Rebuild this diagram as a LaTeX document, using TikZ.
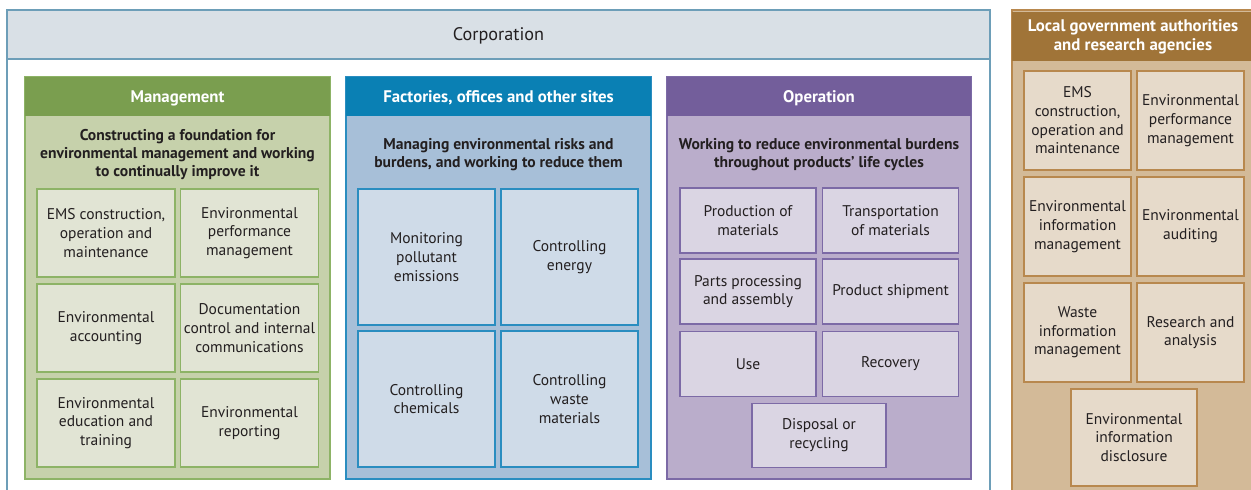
\documentclass[tikz,border=0pt]{standalone}
\usepackage{fontspec}
\setmainfont{PT Sans}
\definecolor{txt}{HTML}{231F20}
\definecolor{corpfill}{HTML}{D9E0E6}
\definecolor{corpline}{HTML}{6D9EB8}
\definecolor{mhead}{HTML}{7A9E4F}
\definecolor{mbody}{HTML}{C6D1AB}
\definecolor{mline}{HTML}{8DB366}
\definecolor{minner}{HTML}{E1E4D4}
\definecolor{fhead}{HTML}{0A80B4}
\definecolor{fbody}{HTML}{A7BFD8}
\definecolor{fline}{HTML}{2A8DC0}
\definecolor{finner}{HTML}{CFDBE8}
\definecolor{ohead}{HTML}{735E9B}
\definecolor{obody}{HTML}{BAADCB}
\definecolor{oline}{HTML}{7C6AA6}
\definecolor{oinner}{HTML}{DAD5E3}
\definecolor{lhead}{HTML}{A07438}
\definecolor{lbody}{HTML}{D3BA98}
\definecolor{lline}{HTML}{B8884E}
\definecolor{linner}{HTML}{E6DACA}
\tikzset{
  base/.style={rectangle, inner sep=0pt, align=center, text=txt,
    font=\fontsize{15.5}{18.7}\selectfont, line width=1.1pt},
  headtxt/.style={base, text=white, font=\fontsize{16.8}{19}\bfseries\selectfont,
    text height=1.3em, text depth=0.1em},
  subtxt/.style={base, font=\fontsize{15.6}{18}\bfseries\selectfont},
  mpanel/.style={base, draw=mline, fill=mbody},
  mheadbox/.style={headtxt, fill=mhead},
  mbox/.style={base, draw=mline, fill=minner, minimum width=138pt, minimum height=88pt},
  fpanel/.style={base, draw=fline, fill=fbody},
  fheadbox/.style={headtxt, fill=fhead},
  fbox/.style={base, draw=fline, fill=finner, minimum width=137pt, minimum height=136pt},
  opanel/.style={base, draw=oline, fill=obody},
  oheadbox/.style={headtxt, fill=ohead},
  obox/.style={base, draw=oline, fill=oinner, minimum width=136pt, minimum height=65pt},
  lpanel/.style={base, draw=lline, fill=lbody},
  lheadbox/.style={headtxt, fill=lhead, text height=, text depth=},
  lbox/.style={base, draw=lline, fill=linner, minimum width=107pt, minimum height=99pt},
}
\begin{document}
\begin{tikzpicture}[x=1pt,y=-1pt]
\useasboundingbox (0,0) rectangle (1251,490);
% Corporation
\node[base, draw=corpline, minimum width=983pt, minimum height=485pt] (corp) at (498.5,252.5) {};
\node[base, draw=corpline, fill=corpfill, minimum width=983pt, minimum height=49pt,
  font=\fontsize{18.2}{21}\selectfont, text height=1.3em, text depth=0.1em] (corphead) at (498.5,34.5) {Corporation};

% Management
\node[mpanel, minimum width=305pt, minimum height=402pt] (mpanel) at (177.5,278) {};
\node[mheadbox, minimum width=305pt, minimum height=39pt] (mhead) at (177.5,96.5) {Management};
\node[subtxt] (msub) at (177.5,154.5) {Constructing a foundation for\\environmental management and working\\to continually improve it};
\node[mbox] (m1) at (106,233) {EMS construction,\\operation and\\maintenance};
\node[mbox] (m2) at (249.5,233) {Environmental\\performance\\management};
\node[mbox] (m3) at (106,328) {Environmental\\accounting};
\node[mbox] (m4) at (249.5,328) {Documentation\\control and internal\\communications};
\node[mbox] (m5) at (106,423) {Environmental\\education and\\training};
\node[mbox] (m6) at (249.5,423) {Environmental\\reporting};

% Factories
\node[fpanel, minimum width=305pt, minimum height=402pt] (fpanel) at (498.5,278) {};
\node[fheadbox, minimum width=305pt, minimum height=39pt] (fhead) at (498.5,96.5) {Factories, offices and other sites};
\node[subtxt] (fsub) at (498.5,154.5) {Managing environmental risks and\\burdens, and working to reduce them};
\node[fbox] (f1) at (426.5,257) {Monitoring\\pollutant\\emissions};
\node[fbox] (f2) at (569.5,257) {Controlling\\energy};
\node[fbox] (f3) at (426.5,399) {Controlling\\chemicals};
\node[fbox] (f4) at (569.5,399) {Controlling\\waste\\materials};

% Operation
\node[opanel, minimum width=304pt, minimum height=402pt] (opanel) at (819,278) {};
\node[oheadbox, minimum width=304pt, minimum height=39pt] (ohead) at (819,96.5) {Operation};
\node[subtxt] (osub) at (819,154.5) {Working to reduce environmental burdens\\throughout products’ life cycles};
\node[obox] (o1) at (748,220.5) {Production of\\materials};
\node[obox] (o2) at (890.5,220.5) {Transportation\\of materials};
\node[obox] (o3) at (748,291.5) {Parts processing\\and assembly};
\node[obox] (o4) at (890.5,291.5) {Product shipment};
\node[obox] (o5) at (748,364) {Use};
\node[obox] (o6) at (890.5,364) {Recovery};
\node[obox, minimum width=134pt, minimum height=64pt] (o7) at (819,435.5) {Disposal or\\recycling};

% Local government
\node[lpanel, minimum width=242pt, minimum height=485pt] (lpanel) at (1133,252.5) {};
\node[lheadbox, minimum width=242pt, minimum height=49pt] (lhead) at (1133,36.5) {Local government authorities\\and research agencies};
\node[lbox] (l1) at (1077.5,120.5) {EMS\\construction,\\operation and\\maintenance};
\node[lbox] (l2) at (1190.5,120.5) {Environmental\\performance\\management};
\node[lbox] (l3) at (1077.5,226.5) {Environmental\\information\\management};
\node[lbox] (l4) at (1190.5,226.5) {Environmental\\auditing};
\node[lbox] (l5) at (1077.5,332.5) {Waste\\information\\management};
\node[lbox] (l6) at (1190.5,332.5) {Research and\\analysis};
\node[lbox, minimum width=126pt, minimum height=97pt] (l7) at (1134,437.5) {Environmental\\information\\disclosure};
\end{tikzpicture}
\end{document}
